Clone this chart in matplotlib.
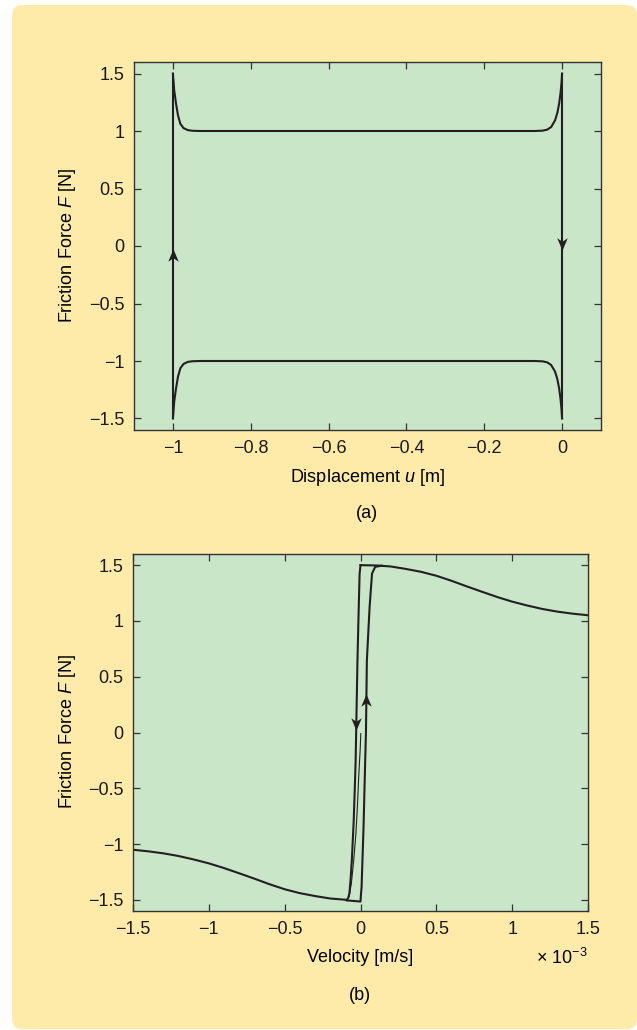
import matplotlib
matplotlib.use("Agg")
import matplotlib.pyplot as plt
from matplotlib.patches import FancyBboxPatch
from matplotlib.path import Path
from matplotlib.ticker import FuncFormatter, MultipleLocator

plt.rcParams['font.family'] = ['Liberation Sans', 'DejaVu Sans']
plt.rcParams['mathtext.fontset'] = 'custom'
plt.rcParams['mathtext.rm'] = 'Liberation Sans'
plt.rcParams['mathtext.it'] = 'Liberation Sans:italic'

YELLOW = '#feebaa'
GREEN = '#c9e6c9'
INK = '#231f20'
FS = 13

# ---- panel (a): friction force vs displacement ----
# upper branch (u increasing)
upper_u = [-1.0, -0.9967, -0.992, -0.987, -0.981, -0.973, -0.962, -0.950, -0.93,
           -0.5, -0.07, -0.05, -0.038, -0.028, -0.018, -0.012, -0.0075, -0.004, -0.0015, 0.0]
upper_F = [1.5, 1.354, 1.238, 1.137, 1.064, 1.026, 1.008, 1.002, 1.0,
           1.0, 1.0, 1.003, 1.012, 1.035, 1.093, 1.16, 1.24, 1.33, 1.42, 1.5]
# lower branch (u decreasing)
lower_u = [0.0, -0.0015, -0.004, -0.0075, -0.012, -0.018, -0.028, -0.038, -0.05, -0.07,
           -0.5, -0.93, -0.950, -0.962, -0.973, -0.981, -0.987, -0.992, -0.9967, -1.0]
lower_F = [-1.5, -1.42, -1.33, -1.24, -1.16, -1.093, -1.035, -1.012, -1.003, -1.0,
           -1.0, -1.0, -1.002, -1.008, -1.026, -1.064, -1.137, -1.238, -1.354, -1.5]
# sticking jumps at the turning points
jump_left_u = [-1.0, -1.0]
jump_left_F = [-1.5, 1.5]
jump_right_u = [0.0, 0.0]
jump_right_F = [1.5, -1.5]
# arrow heads
arrow_a_up = (-1.0, -0.075)
arrow_a_down = (0.0, 0.02)

# ---- panel (b): friction force vs velocity (x 1e-3 m/s) ----
curve_v = [1.5, 1.4, 1.3, 1.2, 1.1, 1.0, 0.9, 0.8, 0.7, 0.6, 0.5, 0.4, 0.3, 0.2, 0.11, 0.0]
curve_F = [1.051, 1.065, 1.083, 1.107, 1.138, 1.173, 1.215, 1.262, 1.31, 1.36, 1.405,
           1.44, 1.466, 1.488, 1.497, 1.5]
left_v = [0.0, -0.006, -0.012, -0.02, -0.026, -0.032, -0.036, -0.045, -0.057, -0.066, -0.073, -0.08, -0.09]
left_F = [1.5, 1.42, 1.1, 0.646, 0.2, -0.25, -0.43, -0.8, -1.14, -1.33, -1.44, -1.48, -1.50]
neg_v = [-0.09, -0.2, -0.3, -0.4, -0.5, -0.6, -0.7, -0.8, -0.9, -1.0, -1.1, -1.2, -1.3, -1.4, -1.5]
neg_F = [-1.50, -1.488, -1.466, -1.44, -1.405, -1.36, -1.31, -1.262, -1.215, -1.173, -1.138,
         -1.107, -1.083, -1.065, -1.051]
right_v = [-0.09, 0.0, 0.003, 0.007, 0.02, 0.031, 0.036, 0.042, 0.06, 0.076, 0.097, 0.14]
right_F = [-1.505, -1.515, -1.45, -1.39, -0.85, -0.25, 0.0, 0.646, 1.125, 1.425, 1.485, 1.495]
start_v = [0.002, -0.002, -0.008, -0.013, -0.02, -0.03, -0.045, -0.06, -0.075]
start_F = [-0.01, -0.15, -0.3, -0.43, -0.65, -0.9, -1.15, -1.35, -1.47]
arrow_b_down = (-0.028, 0.08)
arrow_b_up = (0.038, 0.29)

W, H = 637, 1030
fig = plt.figure(figsize=(W / 100, H / 100), dpi=100)
fig.patch.set_facecolor('white')
box = FancyBboxPatch((0.12, 0.01), 6.25, 10.24, boxstyle='round,pad=0,rounding_size=0.1',
                     transform=fig.dpi_scale_trans, fc=YELLOW, ec='none', zorder=-5)
fig.add_artist(box)

head_up = Path([(0, 0.5), (-0.42, -0.5), (0, -0.22), (0.42, -0.5), (0, 0.5)],
               [Path.MOVETO, Path.LINETO, Path.LINETO, Path.LINETO, Path.CLOSEPOLY])
head_down = Path([(0, -0.5), (-0.42, 0.5), (0, 0.22), (0.42, 0.5), (0, -0.5)],
                 [Path.MOVETO, Path.LINETO, Path.LINETO, Path.LINETO, Path.CLOSEPOLY])


def fmt(x, pos):
    return ('%g' % round(x, 3)).replace('-', '\u2212')


def make_axes(l, t, r, b):
    ax = fig.add_axes([l / W, 1 - b / H, (r - l) / W, (b - t) / H])
    ax.set_facecolor(GREEN)
    for s in ax.spines.values():
        s.set_color('#333333')
        s.set_linewidth(1.0)
    ax.tick_params(direction='in', top=True, right=True, length=5, width=0.9,
                   color='#333333', labelsize=FS, pad=7, labelcolor='#1a1a1a')
    ax.xaxis.set_major_formatter(FuncFormatter(fmt))
    ax.yaxis.set_major_formatter(FuncFormatter(fmt))
    return ax


def px(x, y):
    return x / W, 1 - y / H


# panel (a)
ax1 = make_axes(134, 62, 601, 430)
ax1.plot(upper_u, upper_F, color=INK, lw=1.5)
ax1.plot(lower_u, lower_F, color=INK, lw=1.5)
ax1.plot(jump_left_u, jump_left_F, color=INK, lw=1.5)
ax1.plot(jump_right_u, jump_right_F, color=INK, lw=1.5)
ax1.plot(*arrow_a_up, ls='none', marker=head_up, ms=9, color=INK, mew=0)
ax1.plot(*arrow_a_down, ls='none', marker=head_down, ms=9, color=INK, mew=0)
ax1.set_xlim(-1.1, 0.1)
ax1.set_ylim(-1.6, 1.6)
ax1.xaxis.set_major_locator(MultipleLocator(0.2))
ax1.yaxis.set_major_locator(MultipleLocator(0.5))

# panel (b)
ax2 = make_axes(133, 554, 588, 911)
ax2.plot(curve_v, curve_F, color=INK, lw=1.5)
ax2.plot(left_v, left_F, color=INK, lw=1.5)
ax2.plot(neg_v, neg_F, color=INK, lw=1.5)
ax2.plot(right_v, right_F, color=INK, lw=1.5)
ax2.plot(start_v, start_F, color=INK, lw=0.8)
ax2.plot(*arrow_b_down, ls='none', marker=head_down, ms=9, color=INK, mew=0)
ax2.plot(*arrow_b_up, ls='none', marker=head_up, ms=9, color=INK, mew=0)
ax2.set_xlim(-1.5, 1.5)
ax2.set_ylim(-1.6, 1.6)
ax2.xaxis.set_major_locator(MultipleLocator(0.5))
ax2.yaxis.set_major_locator(MultipleLocator(0.5))

# labels
fig.text(*px(68, 246), 'Friction Force $F$ [N]', rotation=90, ha='center', va='center', fontsize=FS)
fig.text(*px(367, 477), 'Displacement $u$ [m]', ha='center', va='center', fontsize=FS)
fig.text(*px(367, 514), '(a)', ha='center', va='center', fontsize=FS)
fig.text(*px(68, 732), 'Friction Force $F$ [N]', rotation=90, ha='center', va='center', fontsize=FS)
fig.text(*px(360, 958), 'Velocity [m/s]', ha='center', va='center', fontsize=FS)
fig.text(*px(562, 958), '$\\times\\ 10^{\\mathregular{\u2212}3}$',
         ha='center', va='center', fontsize=FS)
fig.text(*px(360, 995), '(b)', ha='center', va='center', fontsize=FS)

fig.savefig('out.png', dpi=100)
